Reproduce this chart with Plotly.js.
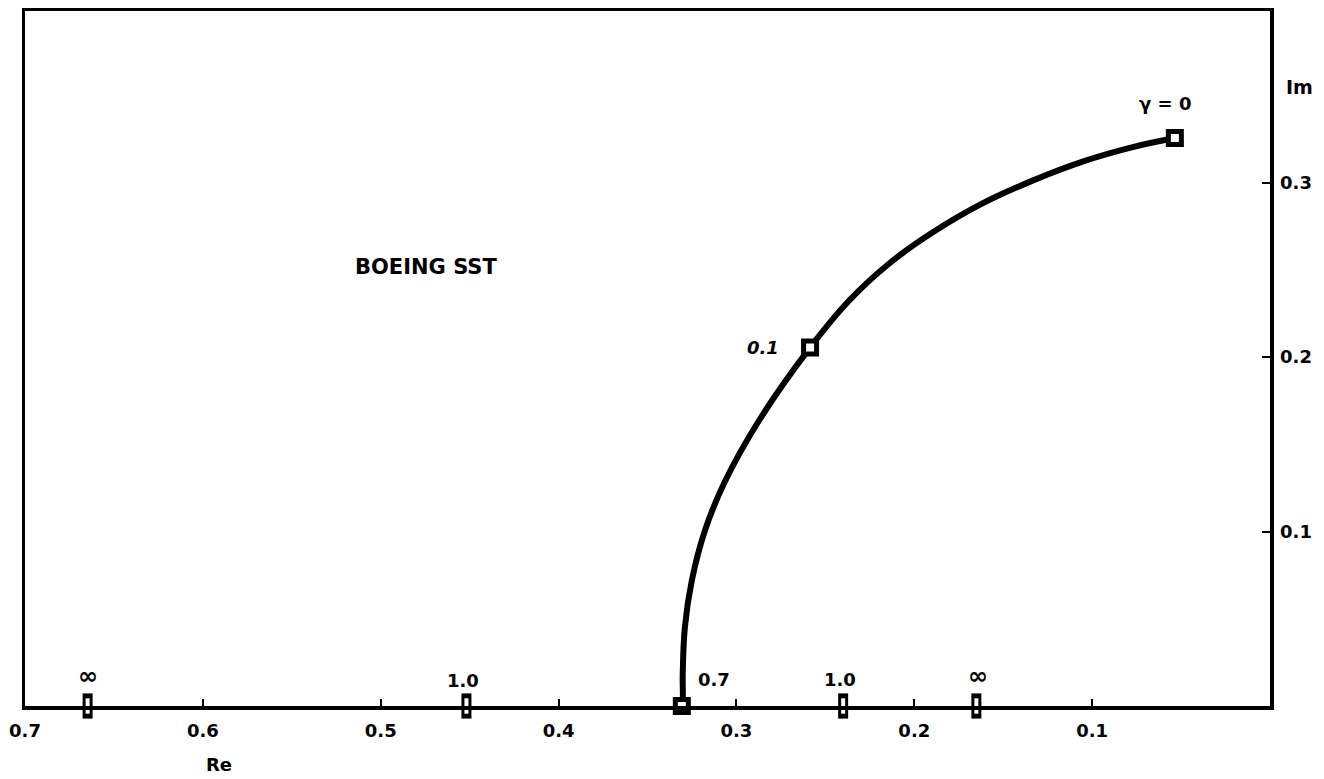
<!DOCTYPE html>
<html>
<head>
<meta charset="utf-8">
<script src="https://cdn.plot.ly/plotly-3.0.1.min.js"></script>
<style>html,body{margin:0;padding:0;background:#fff;}</style>
</head>
<body>
<div id="chart" style="width:1324px;height:779px;"></div>
<script>
// Root locus of the Boeing SST: real and imaginary parts
const locusRe = [0.3307, 0.3302, 0.3302, 0.3290, 0.3251, 0.3177, 0.3070, 0.2873, 0.2586,
                 0.2366, 0.2141, 0.1898, 0.1617, 0.1335, 0.1054, 0.0772, 0.0535];
const locusIm = [0.0000, 0.0032, 0.0186, 0.0450, 0.0719, 0.1006, 0.1275, 0.1636, 0.2054,
                 0.2324, 0.2536, 0.2713, 0.2880, 0.3011, 0.3120, 0.3203, 0.3255];

// Marked gain values along the locus
const pointRe = [0.3307, 0.2586, 0.0535];
const pointIm = [0.0, 0.2054, 0.3255];
const pointLabels = ['0.7', '0.1', 'γ = 0'];

// Marked values on the real axis
const axisRe = [0.6648, 0.4518, 0.2400, 0.1651];
const axisIm = [0, 0, 0, 0];
const axisLabels = ['∞', '1.0', '1.0', '∞'];

// Axis ticks
const reTicks = [0.7, 0.6, 0.5, 0.4, 0.3, 0.2, 0.1];
const reTickLabels = ['0.7', '0.6', '0.5', '0.4', '0.3', '0.2', '0.1'];
const imTicks = [0.1, 0.2, 0.3];
const imTickLabels = ['0.1', '0.2', '0.3'];

const FONT = 'DejaVu Sans, Liberation Sans, Arial, sans-serif';

// label placement relative to each mark (pixels)
const pointShift = [[32, 27], [-47, 0], [-10, 35]];
const pointItalic = [false, true, false];
const axisShift = [[0, 29], [-3, 26], [-3, 27], [2, 29]];

const traces = [
  {
    x: locusRe, y: locusIm, type: 'scatter', mode: 'lines',
    line: {color: '#000', width: 6, shape: 'spline', smoothing: 1},
    hoverinfo: 'skip', cliponaxis: false
  },
  {
    x: pointRe, y: pointIm, type: 'scatter', mode: 'markers',
    marker: {symbol: 'square', size: 13, color: '#fff', line: {color: '#000', width: 5}},
    hoverinfo: 'skip', cliponaxis: false
  },
  // upright boxes on the real axis: black bar with a white core
  {
    x: axisRe, y: axisIm, type: 'scatter', mode: 'markers',
    marker: {symbol: 'line-ns-open', size: 18, color: '#000', line: {width: 10}},
    hoverinfo: 'skip', cliponaxis: false
  },
  {
    x: axisRe, y: axisIm, type: 'scatter', mode: 'markers',
    marker: {symbol: 'line-ns-open', size: 11, color: '#fff', line: {width: 4}},
    hoverinfo: 'skip', cliponaxis: false
  }
];

const annotations = [];
pointLabels.forEach((t, i) => {
  annotations.push({
    x: pointRe[i], y: pointIm[i], xref: 'x', yref: 'y', showarrow: false,
    text: pointItalic[i] ? '<i>' + t + '</i>' : t,
    xshift: pointShift[i][0], yshift: pointShift[i][1],
    font: {family: FONT, size: 18, color: '#000', weight: 'bold'}
  });
});
axisLabels.forEach((t, i) => {
  const isInf = t === '∞';
  annotations.push({
    x: axisRe[i], y: axisIm[i], xref: 'x', yref: 'y', showarrow: false, text: t,
    xshift: axisShift[i][0], yshift: axisShift[i][1] + (isInf ? 1 : 0),
    font: {family: FONT, size: isInf ? 24 : 18, color: '#000', weight: 'bold'}
  });
});
annotations.push({
  x: 0.4745, y: 0.2516, xref: 'x', yref: 'y', showarrow: false, text: 'BOEING SST',
  font: {family: FONT, size: 21, color: '#000', weight: 'bold'}
});
annotations.push({
  x: 1.0233, y: 0.8906, xref: 'paper', yref: 'paper', showarrow: false, text: 'Im',
  xanchor: 'center', yanchor: 'middle',
  font: {family: FONT, size: 19, color: '#000', weight: 'bold'}
});
annotations.push({
  x: 0.1558, y: -0.0835, xref: 'paper', yref: 'paper', showarrow: false, text: 'Re',
  xanchor: 'center', yanchor: 'middle',
  font: {family: FONT, size: 18, color: '#000', weight: 'bold'}
});

const layout = {
  width: 1324, height: 779,
  margin: {l: 25, r: 54, t: 11, b: 73},
  paper_bgcolor: '#fff', plot_bgcolor: '#fff',
  showlegend: false,
  font: {family: FONT, color: '#000'},
  xaxis: {
    range: [0.7, 0], showgrid: false, zeroline: false,
    showline: true, mirror: true, linecolor: '#000', linewidth: 3.5,
    tickmode: 'array', tickvals: reTicks, ticktext: reTickLabels,
    ticks: 'inside', ticklen: 7, tickwidth: 2, tickcolor: '#000',
    ticklabelstandoff: 6,
    tickfont: {family: FONT, size: 18, color: '#000', weight: 'bold'}
  },
  yaxis: {
    range: [0, 0.3983], side: 'right', showgrid: false, zeroline: false,
    showline: true, mirror: true, linecolor: '#000', linewidth: 3.5,
    tickmode: 'array', tickvals: imTicks, ticktext: imTickLabels,
    ticks: 'inside', ticklen: 8, tickwidth: 2, tickcolor: '#000',
    ticklabelstandoff: 3,
    tickfont: {family: FONT, size: 18, color: '#000', weight: 'bold'}
  },
  annotations: annotations
};

Plotly.newPlot('chart', traces, layout, {staticPlot: true, displayModeBar: false});
</script>
</body>
</html>
